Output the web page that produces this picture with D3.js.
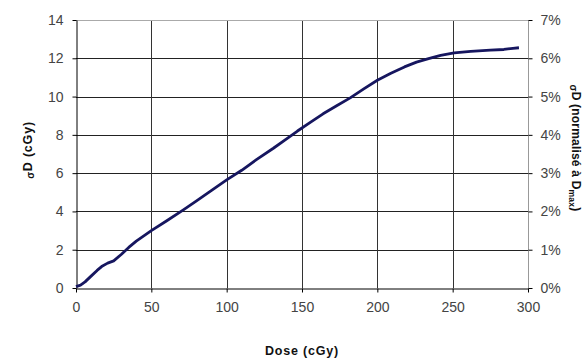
<!DOCTYPE html>
<html>
<head>
<meta charset="utf-8">
<script src="https://cdn.jsdelivr.net/npm/d3@7"></script>
<style>
  html, body { margin: 0; padding: 0; background: #fff; }
  svg { display: block; font-family: Arial, "Liberation Sans", sans-serif; }
</style>
</head>
<body>
<svg id="chart" width="586" height="360"></svg>
<script>
// dose (cGy)
const doses = [0, 3, 6, 10, 14, 17, 21, 25, 30, 35, 40, 45, 50, 60, 71, 80, 90, 100, 110, 120, 131, 140, 147, 156, 164, 173, 182, 191, 200, 209, 218, 226, 234, 242, 251, 262, 275, 284, 290, 294];
// sigma D (cGy)
const sigmaD = [0.07, 0.15, 0.32, 0.62, 0.92, 1.12, 1.3, 1.42, 1.75, 2.12, 2.45, 2.72, 3.0, 3.5, 4.07, 4.55, 5.1, 5.65, 6.15, 6.72, 7.3, 7.8, 8.2, 8.68, 9.1, 9.52, 9.93, 10.4, 10.85, 11.22, 11.55, 11.8, 11.98, 12.15, 12.28, 12.36, 12.43, 12.46, 12.52, 12.55];

const xTicks = [0, 50, 100, 150, 200, 250, 300];
const yTicks = [0, 2, 4, 6, 8, 10, 12, 14];
const pctTicks = [0, 0.01, 0.02, 0.03, 0.04, 0.05, 0.06, 0.07];

const svg = d3.select('#chart');
const M = { left: 76, right: 528, top: 20, bottom: 288 };

const x = d3.scaleLinear().domain([0, 300]).range([M.left, M.right]);
const y = d3.scaleLinear().domain([0, 14]).range([M.bottom, M.top]);
const yPct = d3.scaleLinear().domain([0, 0.07]).range([M.bottom, M.top]);

// grid
svg.append('g')
    .selectAll('line')
    .data(yTicks.slice(1, -1))
    .join('line')
    .attr('x1', M.left).attr('x2', M.right)
    .attr('y1', d => Math.round(y(d)) + 0.5).attr('y2', d => Math.round(y(d)) + 0.5)
    .attr('stroke', '#222');

svg.append('g')
    .selectAll('line')
    .data(xTicks.slice(1, -1))
    .join('line')
    .attr('x1', d => Math.round(x(d)) + 0.5).attr('x2', d => Math.round(x(d)) + 0.5)
    .attr('y1', M.top).attr('y2', M.bottom)
    .attr('stroke', '#333');

// frame top / right
svg.append('line')
    .attr('x1', M.left).attr('x2', M.right)
    .attr('y1', M.top + 0.5).attr('y2', M.top + 0.5)
    .attr('stroke', '#aaa');
svg.append('line')
    .attr('x1', M.right + 0.5).attr('x2', M.right + 0.5)
    .attr('y1', M.top).attr('y2', M.bottom)
    .attr('stroke', '#999');

// axes
const tickStyle = g => {
    g.select('.domain').attr('stroke', '#000');
    g.selectAll('.tick line').attr('stroke', '#000');
    g.selectAll('.tick text').attr('fill', '#444').style('font-size', '14px');
};

svg.append('g')
    .attr('transform', `translate(${M.left + 0.5},0)`)
    .call(d3.axisLeft(y).tickValues(yTicks).tickSize(4).tickSizeOuter(0).tickPadding(9))
    .call(tickStyle);

svg.append('g')
    .attr('transform', `translate(0,${M.bottom + 0.5})`)
    .call(d3.axisBottom(x).tickValues(xTicks).tickSize(4).tickSizeOuter(0).tickPadding(10))
    .call(tickStyle);

svg.append('g')
    .attr('transform', `translate(${M.right + 0.5},0)`)
    .call(d3.axisRight(yPct).tickValues(pctTicks).tickFormat(d3.format('.0%')).tickSize(4).tickSizeOuter(0).tickPadding(8))
    .call(g => g.select('.domain').remove())
    .call(g => g.selectAll('.tick line').attr('stroke', '#000'))
    .call(g => g.selectAll('.tick text').attr('fill', '#444').style('font-size', '14px'));

// curve
const line = d3.line()
    .x((d, i) => x(doses[i]))
    .y(d => y(d));

svg.append('path')
    .datum(sigmaD)
    .attr('d', line)
    .attr('fill', 'none')
    .attr('stroke', '#16165f')
    .attr('stroke-width', 2.8)
    .attr('stroke-linejoin', 'round');

// axis titles
svg.append('text')
    .attr('x', 302).attr('y', 355)
    .attr('text-anchor', 'middle')
    .style('font-size', '12.5px').style('font-weight', 'bold').style('letter-spacing', '0.8px')
    .attr('fill', '#111')
    .text('Dose (cGy)');

const yl = svg.append('text')
    .attr('transform', 'translate(32,150) rotate(-90)')
    .attr('text-anchor', 'middle')
    .style('font-size', '12.5px').style('font-weight', 'bold').style('letter-spacing', '0.8px')
    .attr('fill', '#111');
yl.append('tspan').style('font-size', '10px').attr('dy', 2).text('σ');
yl.append('tspan').attr('dy', -2).text('D (cGy)');

// right title sits against the edge, as in the original, but kept fully visible
const yr = svg.append('text')
    .attr('transform', 'translate(572,148) rotate(90)')
    .attr('text-anchor', 'middle')
    .style('font-size', '12px').style('font-weight', 'bold').style('letter-spacing', '0.2px')
    .attr('fill', '#111');
yr.append('tspan').style('font-size', '10px').attr('dy', 2).text('σ');
yr.append('tspan').attr('dy', -2).text('D (normalisé à D');
yr.append('tspan').style('font-size', '8.5px').attr('dy', 3).text('max');
yr.append('tspan').attr('dy', -3).text(')');
</script>
</body>
</html>
